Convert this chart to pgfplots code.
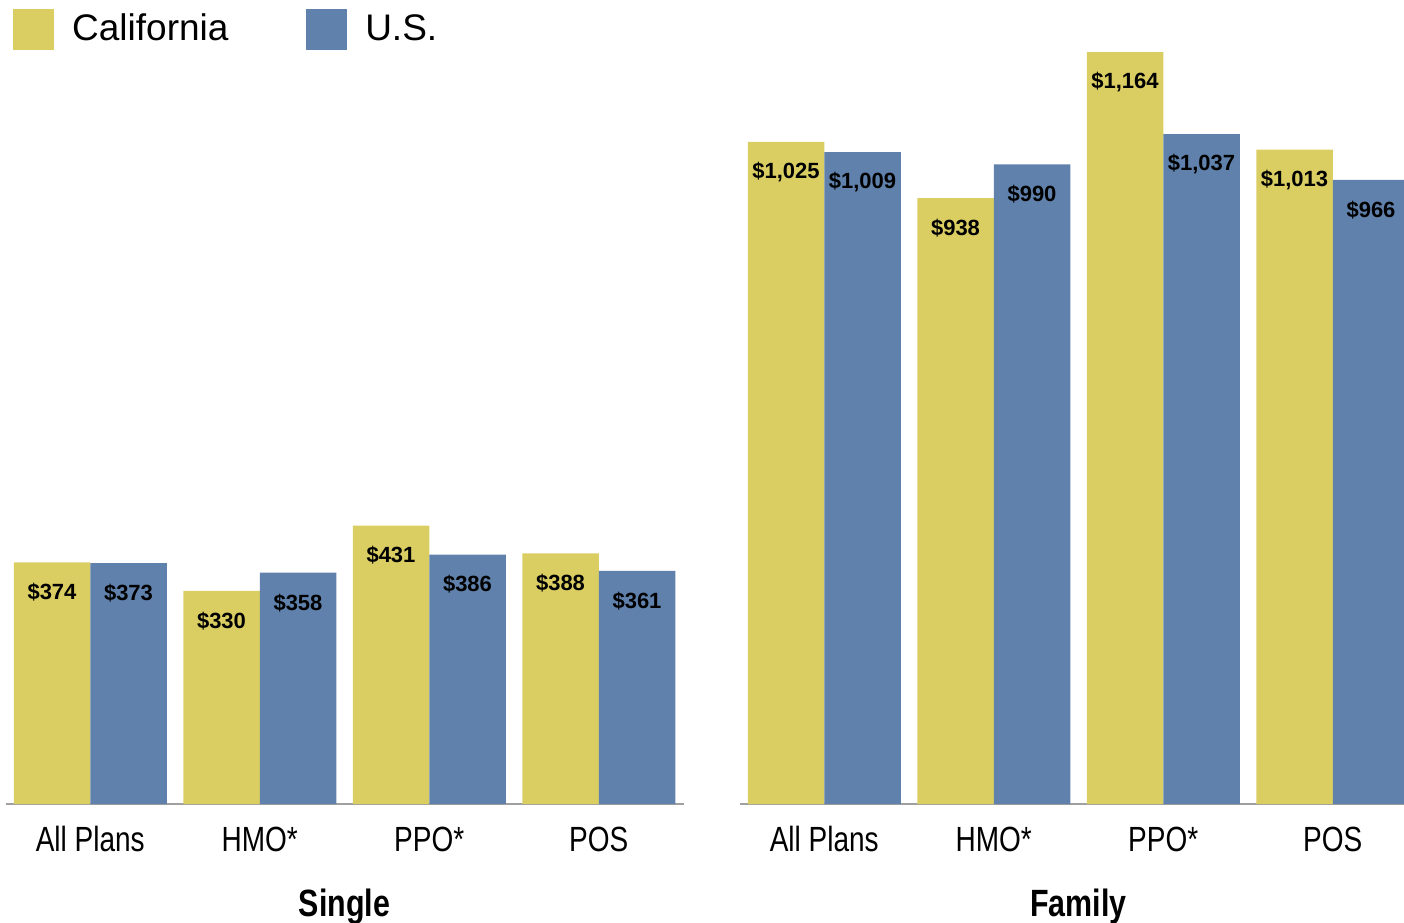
\documentclass[border=0pt]{standalone}
\usepackage{pgfplots}
\pgfplotsset{compat=1.18}
\usepackage{fontspec}
\setmainfont{Liberation Sans}
\newfontfamily\condfont[FakeStretch=0.8]{Liberation Sans}
\definecolor{cagold}{HTML}{DACE62}
\definecolor{usblue}{HTML}{5F81AC}
\definecolor{baseln}{HTML}{A0A0A0}

\pgfplotsset{
  premium/.style={
    x=84.75pt, y=0.323pt, scale only axis,
    ybar=0pt, bar width=38.25pt,
    xmin=-0.5, xmax=3.5, ymin=0, ymax=1240,
    axis x line=bottom, axis y line=none,
    axis line style={baseln, line width=1pt, -},
    xtick={0,1,2,3}, xticklabels={All Plans,HMO*,PPO*,POS},
    major tick length=0pt, ytick=\empty,
    xticklabel style={font=\condfont\fontsize{17.5}{20}\selectfont,
      anchor=base, yshift=-23.5pt, text=black},
    x label style={font=\condfont\bfseries\fontsize{19}{22}\selectfont,
      at={(axis description cs:0.5,0)}, anchor=base, yshift=-56pt},
    nodes near coords={\$\pgfmathprintnumber{\pgfplotspointmeta}},
    nodes near coords style={font=\bfseries\fontsize{11}{13}\selectfont,
      anchor=center, yshift=-15pt, text=black},
    /pgf/number format/fixed, /pgf/number format/precision=0,
    /pgf/number format/1000 sep={,},
    /pgf/number format/assume math mode=true,
    clip=false,
  },
  caimg/.style={legend image code/.code={\fill[cagold] (0pt,-10pt) rectangle (20pt,10pt);}},
  usimg/.style={legend image code/.code={\fill[usblue] (0pt,-10pt) rectangle (20pt,10pt);}},
}

\begin{document}
\begin{tikzpicture}
\path[use as bounding box] (0pt,0pt) rectangle (702pt,461pt);

% Single coverage
\begin{axis}[premium, at={(2.75pt,59pt)}, anchor=south west,
  xlabel={Single},
  legend style={at={(axis cs:-0.4558,1232)}, anchor=north west,
    draw=none, fill=none, inner sep=0pt, legend columns=2,
    font=\fontsize{18.5}{21}\selectfont,
    /tikz/every odd column/.append style={column sep=7pt},
    /tikz/every even column/.append style={column sep=37pt}},
]
\addlegendimage{caimg}
\addlegendimage{usimg}
\addplot[fill=cagold, draw=none] coordinates {(0,374) (1,330) (2,431) (3,388)};
\addplot[fill=usblue, draw=none] coordinates {(0,373) (1,358) (2,386) (3,361)};
\legend{California,U.S.}
\end{axis}

% Family coverage
\begin{axis}[premium, at={(369.75pt,59pt)}, anchor=south west,
  xlabel={Family},
]
\addplot[fill=cagold, draw=none] coordinates {(0,1025) (1,938) (2,1164) (3,1013)};
\addplot[fill=usblue, draw=none] coordinates {(0,1009) (1,990) (2,1037) (3,966)};
\end{axis}
\end{tikzpicture}
\end{document}
